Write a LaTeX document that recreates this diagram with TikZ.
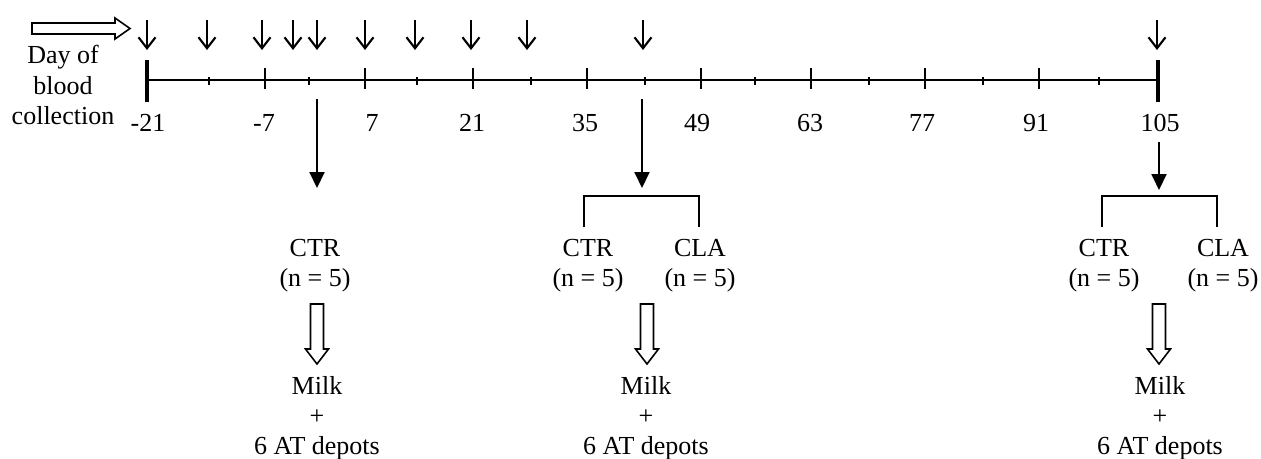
\documentclass[tikz,border=0pt]{standalone}
\usepackage{fontspec}
\setmainfont{Liberation Serif}
\usetikzlibrary{arrows.meta}

\begin{document}
\begin{tikzpicture}[x=0.02cm, y=-0.02cm,
	every node/.style={font=\fontsize{14.8}{17.6}\selectfont, inner sep=0pt, align=center},
	group/.style={font=\fontsize{14.8}{17}\selectfont},
	sampling/.style={line width=1.2pt, -{Straight Barb[length=0.22cm, width=0.34cm]}},
	bigarrow/.style={line width=1.1pt, -{Triangle[length=0.32cm, width=0.3cm]}},
	bracket/.style={line width=0.9pt},
	timeline/.style={line width=1.5pt},
	blockdown/.pic={\draw[line width=0.9pt, fill=white] (-6.5,0) -- (-6.5,45) -- (-11.5,45) -- (0,60) -- (11.5,45) -- (6.5,45) -- (6.5,0) -- cycle;}]
	\useasboundingbox (0,0) rectangle (1261,458);

	%Legend
	\draw[line width=0.9pt] (32,23) -- (115,23) -- (115,18) -- (130,28.5) -- (115,39) -- (115,34) -- (32,34) -- cycle;
	\node (legend) at (63,85) {Day of\\blood\\collection};

	%Time line
	\draw[timeline] (147,80) -- (1158,80);
	\draw[line width=2.8pt] (147,60) -- (147,102);
	\draw[line width=2.8pt] (1158,60) -- (1158,102);
	\foreach \x in {265,365,473,587,701,811,925,1039}
		\draw[line width=1.1pt] (\x,68) -- (\x,89);
	\foreach \x in {209,309,417,531,645,755,869,983,1099}
		\draw[line width=1.1pt] (\x,77) -- (\x,85);
	\foreach \x/\d in {148/-21,264/-7,372/7,472/21,585/35,697/49,810/63,922/77,1036/91,1160/105}
		\node (l\d) at (\x,123) {\d};

	%Blood sampling days
	\foreach \x in {147,207,262,293,317,365,415,471,527,643,1157}
		\draw[sampling] (\x,20) -- (\x,50);

	%Day 0
	\coordinate (axis0) at (317,99);
	\coordinate (tip0) at (317,188);
	\draw[bigarrow] (axis0) -- (tip0);
	\node[group] (ctr0) at (315,266) {CTR\\(n = 5)};
	\pic at (317,304) {blockdown};
	\node[group] (out0) at (317,418) {Milk\\+\\6 AT depots};

	%Day 42
	\coordinate (axis42) at (642,99);
	\coordinate (tip42) at (642,188);
	\draw[bigarrow] (axis42) -- (tip42);
	\draw[bracket] (584,227) -- (584,196) -- (699,196) -- (699,227);
	\node[group] (ctr42) at (588,266) {CTR\\(n = 5)};
	\node[group] (cla42) at (700,266) {CLA\\(n = 5)};
	\pic at (647,304) {blockdown};
	\node[group] (out42) at (646,418) {Milk\\+\\6 AT depots};

	%Day 105
	\coordinate (tip105) at (1159,190);
	\draw[bigarrow] ([yshift=-0.2cm]l105.south -| tip105) -- (tip105);
	\draw[bracket] (1102,227) -- (1102,196) -- (1217,196) -- (1217,227);
	\node[group] (ctr105) at (1104,266) {CTR\\(n = 5)};
	\node[group] (cla105) at (1223,266) {CLA\\(n = 5)};
	\pic at (1159,304) {blockdown};
	\node[group] (out105) at (1160,418) {Milk\\+\\6 AT depots};
\end{tikzpicture}
\end{document}
